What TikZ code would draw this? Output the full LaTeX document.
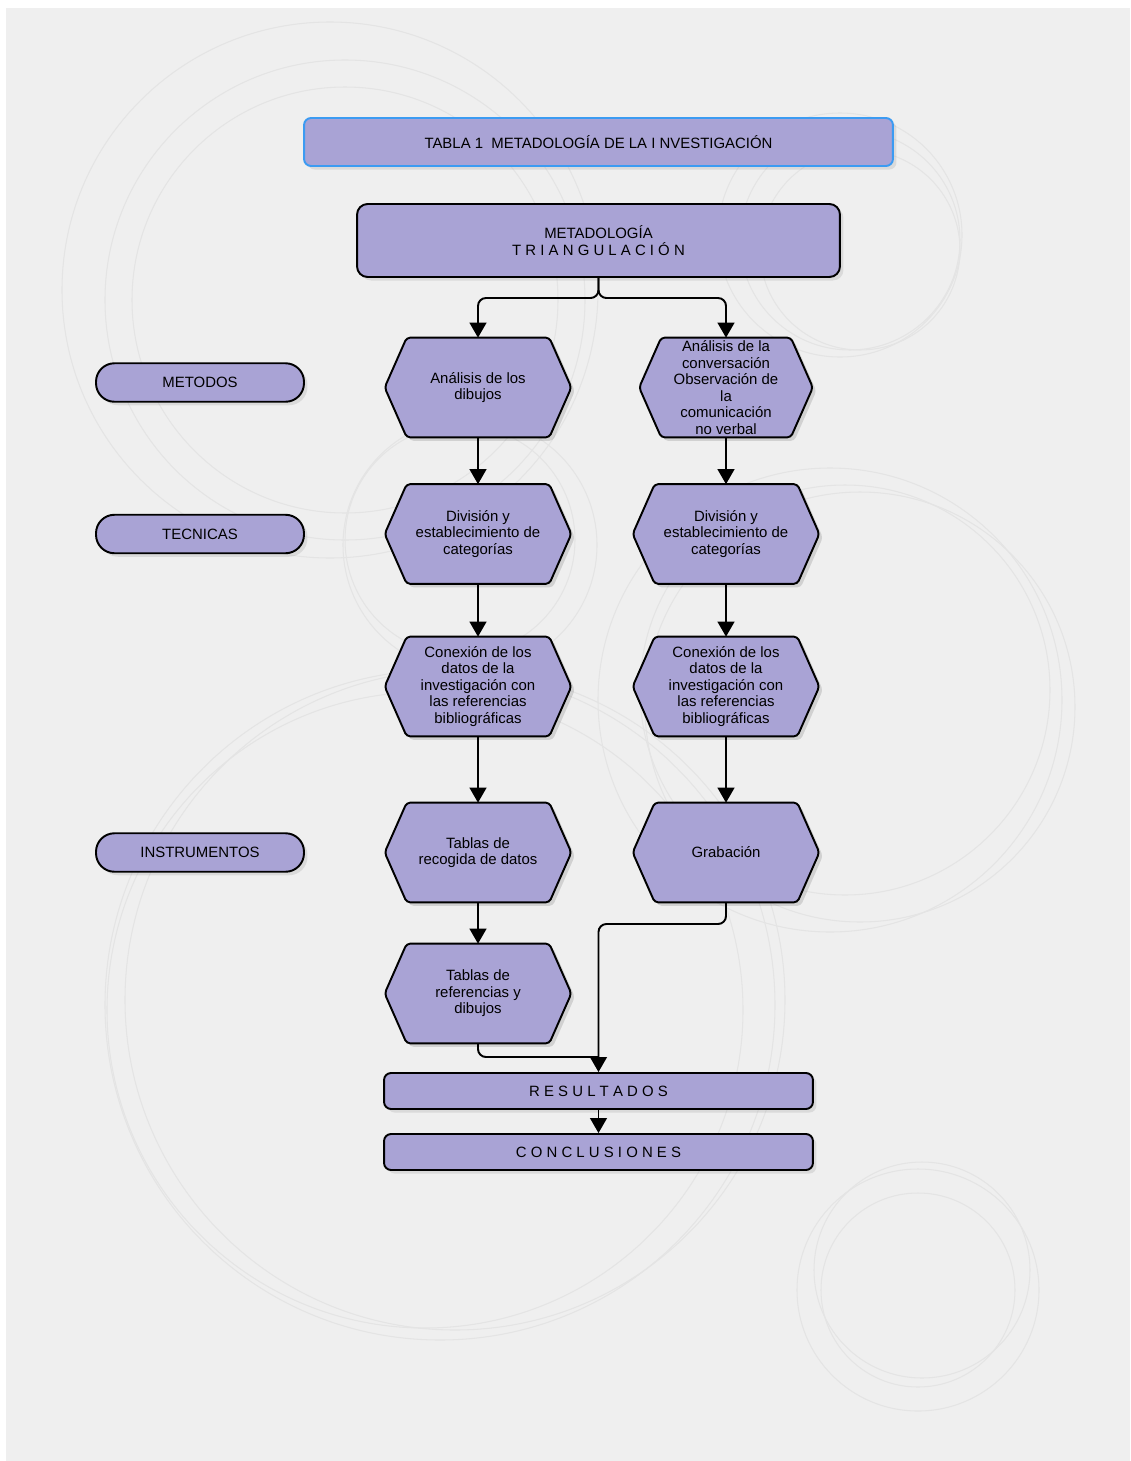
\documentclass[tikz,border=0pt]{standalone}
\usepackage{fontspec}
\setmainfont{Liberation Sans}
\usetikzlibrary{positioning, shadows, backgrounds, arrows.meta, calc}

\definecolor{lila}{HTML}{A9A3D5}
\definecolor{fondo}{HTML}{EFEFEF}
\definecolor{aro}{HTML}{E4E4E4}
\definecolor{azulborde}{HTML}{3C9BF2}

\begin{document}
\begin{tikzpicture}[x=0.02cm, y=-0.02cm,
  txt/.style={font=\fontsize{8.5}{9.4}\selectfont, align=center},
  caja/.style={txt, rectangle, draw, line width=1.1pt, rounded corners=4pt, fill=lila,
    drop shadow={opacity=0.18, shadow xshift=2pt, shadow yshift=-2pt}},
  etiqueta/.style={caja, rounded corners=10.5pt, minimum width=4.16cm, minimum height=0.77cm},
  hexa/.style={txt, rectangle, minimum width=3.72cm, minimum height=1.98cm, inner sep=0pt},
  hexline/.style={fill=lila, draw, line width=1.1pt, rounded corners=2pt},
  conn/.style={line width=1.1pt, rounded corners=4.5pt, -{Triangle[width=9.5pt,length=8.5pt]}},
  linea/.style={line width=1.1pt, rounded corners=4.5pt}
]
\useasboundingbox (0,0) rectangle (1130,1461);

% fondo y aros
\begin{pgfonlayer}{background}
  \fill[white] (0,0) rectangle (1130,1461);
  \fill[fondo] (6,8) rectangle (1130,1461);
  \foreach \cx/\cy/\r in {330/290/268, 345/300/240, 345/300/213,
      850/240/110, 860/250/100, 840/235/122,
      460/540/115, 470/545/127,
      860/707/215, 845/690/205, 830/700/232,
      440/1005/335, 455/1000/330, 425/1010/318,
      918/1290/121, 922/1270/108, 918/1290/97}
    \draw[aro, line width=0.6pt] (\cx,\cy) circle[radius=\r*0.02cm];
\end{pgfonlayer}

% cabeceras
\node[caja, draw=azulborde, minimum width=11.78cm, minimum height=0.96cm] (titulo) at (598.5,142)
  {TABLA 1\ \ METADOLOGÍA DE LA I NVESTIGACIÓN};
\node[caja, rounded corners=6pt, minimum width=9.66cm, minimum height=1.46cm] (meta) at (598.5,240.5)
  {METADOLOGÍA\\T R I A N G U L A C I Ó N};

% etiquetas de la izquierda
\node[etiqueta] (metodos) at (200,382.5) {METODOS};
\node[etiqueta] (tecnicas) at (200,534) {TECNICAS};
\node[etiqueta] (instrumentos) at (200,852.5) {INSTRUMENTOS};

% columna izquierda
\node[hexa] (a1) at (478,387.5) {Análisis de los\\dibujos};
\node[hexa] (a2) at (478,534) {División y\\establecimiento de\\categorías};
\node[hexa] (a3) at (478,686.5) {Conexión de los\\datos de la\\investigación con\\las referencias\\bibliográficas};
\node[hexa] (a4) at (478,852.5) {Tablas de\\recogida de datos};
\node[hexa] (a5) at (478,993.5) {Tablas de\\referencias y\\dibujos};

% columna derecha
\node[hexa, minimum width=3.46cm] (b1) at (726,387.5) {Análisis de la\\conversación\\Observación de\\la\\comunicación\\no verbal};
\node[hexa] (b2) at (726,534) {División y\\establecimiento de\\categorías};
\node[hexa] (b3) at (726,686.5) {Conexión de los\\datos de la\\investigación con\\las referencias\\bibliográficas};
\node[hexa] (b4) at (726,852.5) {Grabación};

% final
\node[caja, minimum width=8.58cm, minimum height=0.72cm] (resultados) at (598.5,1091) {R E S U L T A D O S};
\node[caja, minimum width=8.58cm, minimum height=0.72cm] (conclusiones) at (598.5,1152) {C O N C L U S I O N E S};

% hexagonos detras del texto
\begin{pgfonlayer}{background}
  \foreach \h in {a1,a2,a3,a4,a5,b1,b2,b3,b4} {
    \fill[black, opacity=0.12, rounded corners=2pt] ([xshift=2pt,yshift=-2pt]\h.west) -- ([xshift=0.44cm+2pt,yshift=-2pt]\h.north west)
      -- ([xshift=-0.44cm+2pt,yshift=-2pt]\h.north east) -- ([xshift=2pt,yshift=-2pt]\h.east)
      -- ([xshift=-0.44cm+2pt,yshift=-2pt]\h.south east) -- ([xshift=0.44cm+2pt,yshift=-2pt]\h.south west) -- cycle;
    \draw[hexline] (\h.west) -- ([xshift=0.44cm]\h.north west) -- ([xshift=-0.44cm]\h.north east)
      -- (\h.east) -- ([xshift=-0.44cm]\h.south east) -- ([xshift=0.44cm]\h.south west) -- cycle;
  }
\end{pgfonlayer}

% conectores
\coordinate (split) at (598.5,298);
\coordinate (rjoin) at (598.5,924);
\coordinate (ljoin) at (598.5,1057);
\draw[conn] (meta.south) -- (split) -| (a1.north);
\draw[conn] (meta.south) -- (split) -| (b1.north);
\draw[conn] (a1) -- (a2);
\draw[conn] (a2) -- (a3);
\draw[conn] (a3) -- (a4);
\draw[conn] (a4) -- (a5);
\draw[conn] (b1) -- (b2);
\draw[conn] (b2) -- (b3);
\draw[conn] (b3) -- (b4);
\draw[linea] (a5.south) |- (ljoin);
\draw[conn] (b4.south) |- (rjoin) -- (resultados.north);
\draw[conn] (resultados) -- (conclusiones);
\end{tikzpicture}
\end{document}
